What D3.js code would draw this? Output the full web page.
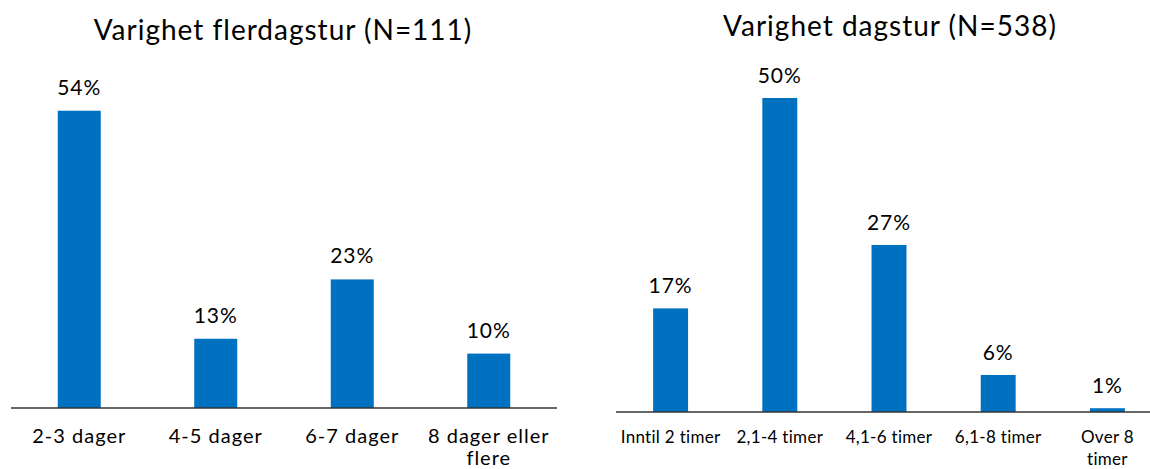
<!DOCTYPE html>
<html>
<head>
<meta charset="utf-8">
<script src="https://cdn.jsdelivr.net/npm/d3@7"></script>
<style>
  body { margin: 0; background: #fff; }
  svg text { font-family: Lato, "Open Sans", sans-serif; fill: #000; }
</style>
</head>
<body>
<div id="chart"></div>
<script>
// left chart: multi-day trips
var flerCategories = ["2-3 dager", "4-5 dager", "6-7 dager", "8 dager eller\nflere"];
var flerValues = [54.1, 12.6, 23.4, 9.9];
var flerTitle = "Varighet flerdagstur (N=111)";

// right chart: day trips
var dagCategories = ["Inntil 2 timer", "2,1-4 timer", "4,1-6 timer", "6,1-8 timer", "Over 8\ntimer"];
var dagValues = [16.5, 50.0, 26.6, 5.9, 0.6];
var dagTitle = "Varighet dagstur (N=538)";

var svgWidth = 1150;
var svgHeight = 469;

var svg = d3.select("#chart")
    .append("svg")
    .attr("width", svgWidth)
    .attr("height", svgHeight);

function drawChart(opts) {
    var g = svg.append("g");

    var xScale = d3.scaleBand()
        .domain(opts.categories)
        .range([opts.x0, opts.x1])
        .paddingInner(opts.pad)
        .paddingOuter(opts.pad / 2);

    var yScale = d3.scaleLinear()
        .domain([0, 60])
        .range([opts.baseY, opts.baseY - 60 * opts.pxPerPct]);

    var data = opts.categories.map(function(c, i) {
        return {cat: c, value: opts.values[i]};
    });

    g.selectAll("rect")
        .data(data)
        .enter()
        .append("rect")
        .attr("x", d => xScale(d.cat))
        .attr("y", d => yScale(d.value))
        .attr("width", xScale.bandwidth())
        .attr("height", d => opts.baseY - yScale(d.value))
        .attr("fill", "#0070C0");

    g.selectAll(".val")
        .data(data)
        .enter()
        .append("text")
        .attr("class", "val")
        .attr("x", d => xScale(d.cat) + xScale.bandwidth() / 2)
        .attr("y", d => yScale(d.value) - opts.labelGap)
        .attr("text-anchor", "middle")
        .style("font-size", opts.valSize + "px")
        .style("letter-spacing", "1px")
        .text(d => Math.round(d.value) + "%");

    var axis = d3.axisBottom(xScale).tickSize(0).tickSizeOuter(0).tickFormat("");
    var axisG = g.append("g")
        .attr("transform", `translate(0, ${opts.baseY})`)
        .call(axis);
    axisG.select(".domain")
        .attr("d", `M${opts.lineX0},0H${opts.lineX1}`)
        .attr("stroke", "#333")
        .attr("stroke-width", 1.6);

    // category labels, split on newline
    g.selectAll(".cat")
        .data(data)
        .enter()
        .append("text")
        .attr("class", "cat")
        .attr("text-anchor", "middle")
        .style("font-size", opts.catSize + "px")
        .style("letter-spacing", opts.catSpacing + "px")
        .each(function(d) {
            var t = d3.select(this);
            d.cat.split("\n").forEach(function(line, i) {
                t.append("tspan")
                    .attr("x", xScale(d.cat) + xScale.bandwidth() / 2)
                    .attr("y", opts.catY + i * opts.catLine)
                    .text(line);
            });
        });

    g.append("text")
        .attr("x", opts.titleX)
        .attr("y", opts.titleY)
        .attr("text-anchor", "middle")
        .style("font-size", opts.titleSize + "px")
        .style("letter-spacing", "1px")
        .text(opts.title);
}

drawChart({
    categories: flerCategories,
    values: flerValues,
    title: flerTitle,
    x0: 11, x1: 557, pad: 0.685,
    lineX0: 11, lineX1: 557,
    baseY: 408, pxPerPct: 5.495,
    labelGap: 16, valSize: 21,
    catY: 443, catLine: 22, catSize: 20, catSpacing: 1,
    titleX: 283, titleY: 40, titleSize: 28
});

drawChart({
    categories: dagCategories,
    values: dagValues,
    title: dagTitle,
    x0: 616, x1: 1162, pad: 0.68,
    lineX0: 616, lineX1: 1150,
    baseY: 412, pxPerPct: 6.28,
    labelGap: 15, valSize: 21,
    catY: 443, catLine: 22, catSize: 17, catSpacing: 0.3,
    titleX: 890, titleY: 36, titleSize: 28
});
</script>
</body>
</html>
